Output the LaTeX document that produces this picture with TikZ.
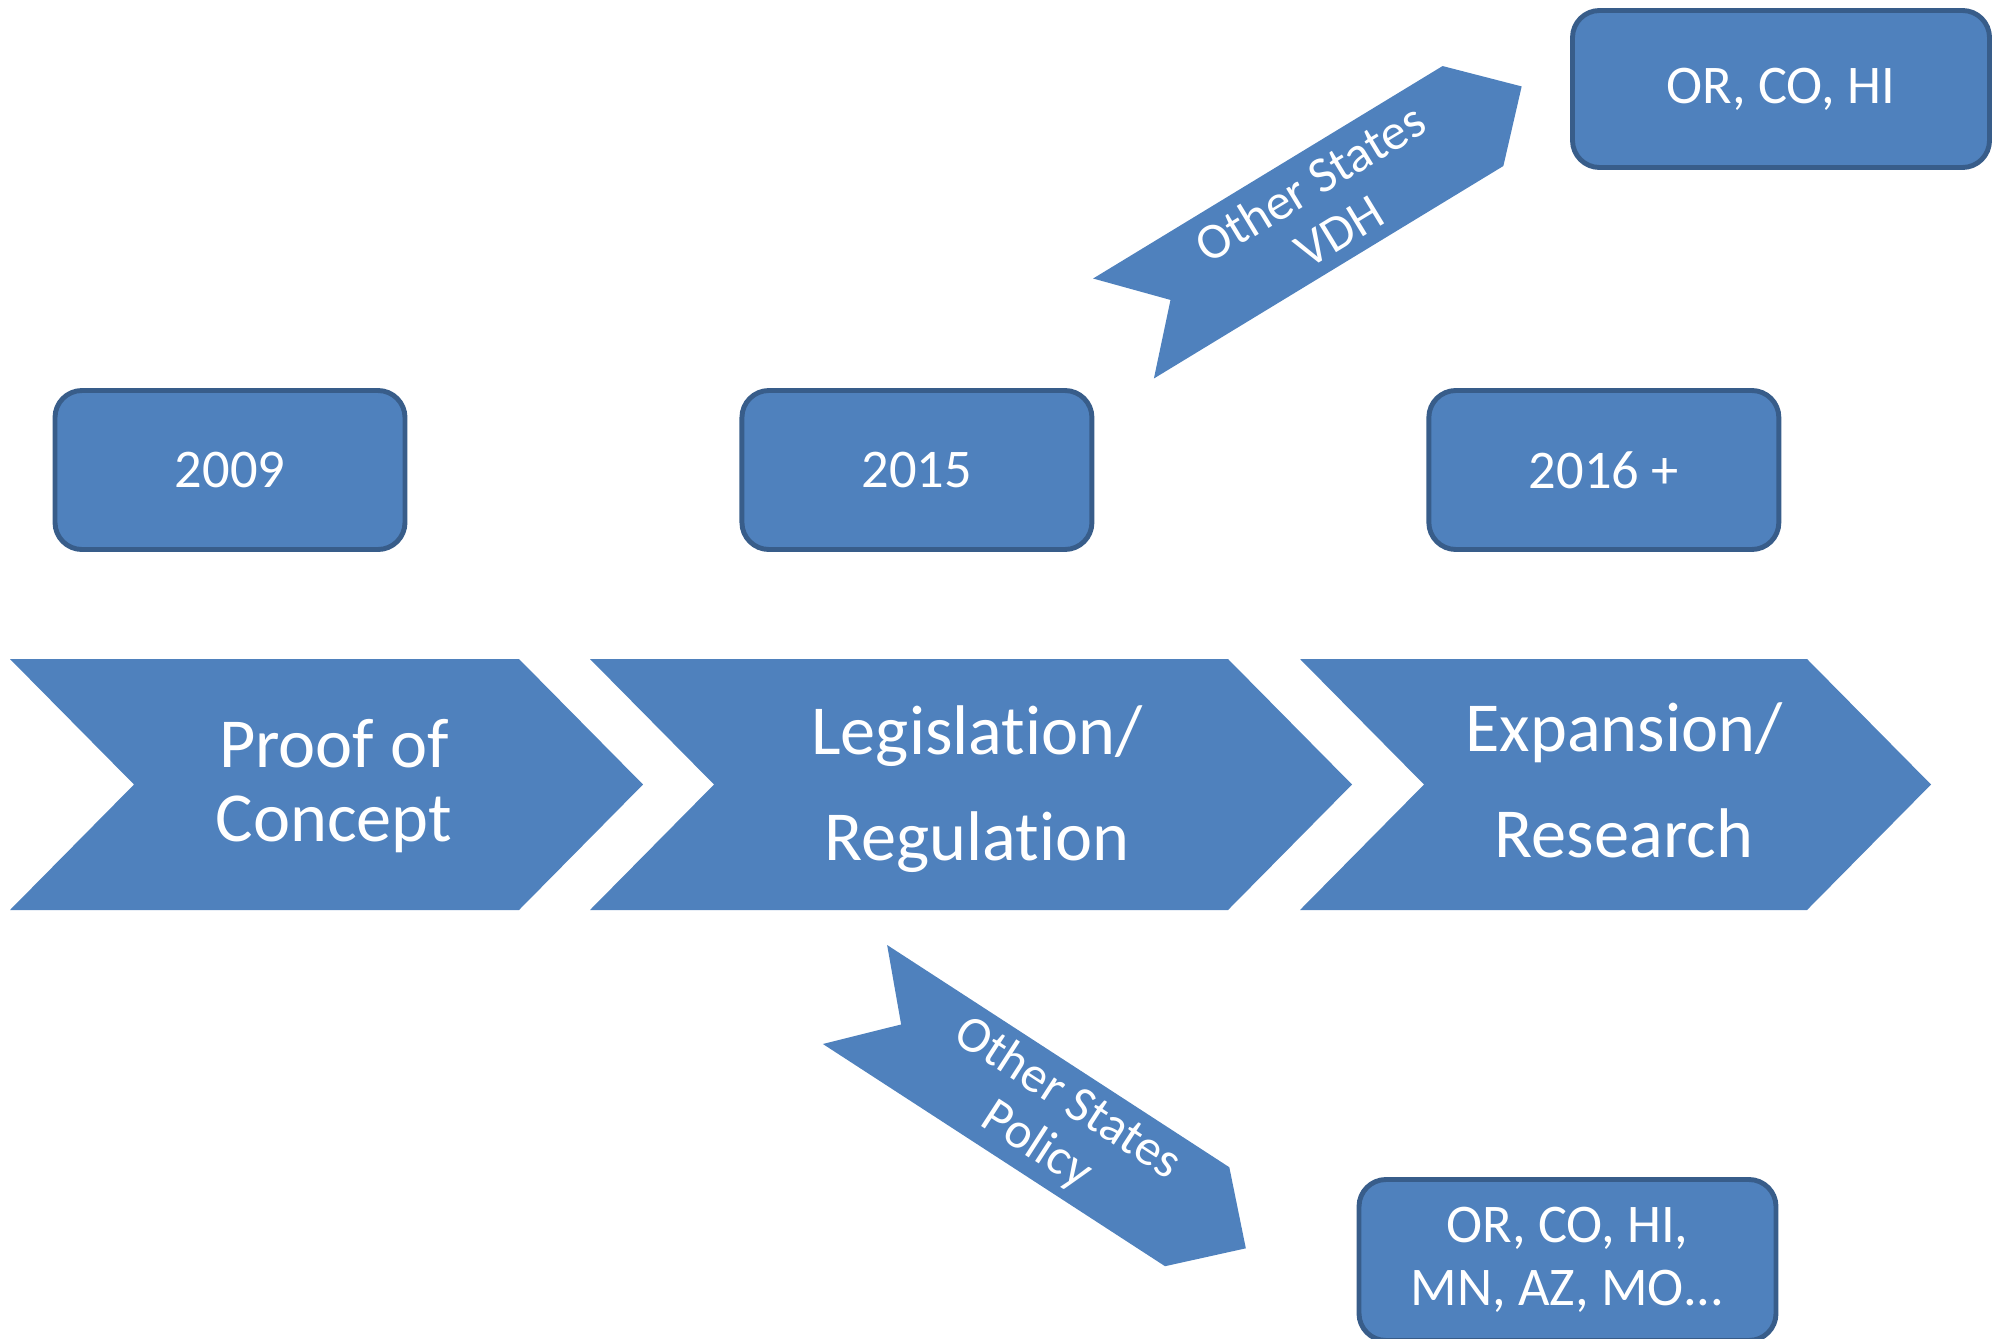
\documentclass[tikz,border=0pt]{standalone}
\usepackage{fontspec}
\setmainfont{Carlito}[Ligatures=NoCommon]
\usetikzlibrary{positioning}
\definecolor{boxblue}{HTML}{4F81BD}
\definecolor{boxedge}{HTML}{385D8A}

\begin{document}
\begin{tikzpicture}[
    yearbox/.style={draw=boxedge, fill=boxblue, line width=1.4pt, rounded corners=0.27cm, text=white, inner sep=0pt, minimum width=3.5cm, minimum height=1.59cm, align=center, font=\fontsize{15.5}{18}\selectfont},
    statebox/.style={yearbox, minimum width=4.17cm},
    stagetext/.style={text=white, align=center, inner sep=0pt, font=\fontsize{20}{30.2}\selectfont},
    flagtext/.style={text=white, align=center, inner sep=0pt, font=\fontsize{14.5}{16}\selectfont}]
    % Frame
    \useasboundingbox (0,0) rectangle (19.92,13.38);
    \clip (0,0) rectangle (19.92,13.38);

    % Stage chevrons
    \fill[boxblue] (0.10,6.79) -- (5.19,6.79) -- (6.43,5.535) -- (5.19,4.28) -- (0.10,4.28) -- (1.34,5.535) -- cycle;
    \fill[boxblue] (5.90,6.79) -- (12.28,6.79) -- (13.52,5.535) -- (12.28,4.28) -- (5.90,4.28) -- (7.14,5.535) -- cycle;
    \fill[boxblue] (13.00,6.79) -- (18.07,6.79) -- (19.31,5.535) -- (18.07,4.28) -- (13.00,4.28) -- (14.24,5.535) -- cycle;

    % Stage labels
    \node (proof) [stagetext, font=\fontsize{20}{21.3}\selectfont] at (3.34,5.52) {Proof of\\Concept};
    \node (legis) [stagetext] at (9.77,5.49) {Legislation/\\Regulation};
    \node (expan) [stagetext] at (16.24,5.575) {Expansion/\\Research};

    % Year boxes
    \node (y2009) [yearbox] at (2.30,8.68) {2009};
    \node (y2015) [yearbox, right=3.32cm of y2009] {2015};
    \node (y2016) [yearbox, right=3.32cm of y2015] {2016 +};

    % State boxes
    \node (vdhstates) [statebox, minimum height=1.57cm] at (17.81,12.49) {OR, CO, HI};
    \node (policystates) [statebox, minimum height=1.61cm] at (15.675,0.78) {OR, CO, HI,\\MN, AZ, MO...};

    % Upper flag
    \begin{scope}[shift={(11.235,10.095)}, rotate=31.3]
        \fill[boxblue] (0,0.585) -- (4.09,0.585) -- (4.66,0) -- (4.09,-0.585) -- (0,-0.585) -- (0.55,0) -- cycle;
        \node (vdh) [flagtext, rotate=31.3] at (2.35,0) {Other States\\VDH};
    \end{scope}

    % Lower flag
    \begin{scope}[shift={(8.55,3.435)}, rotate=-33]
        \fill[boxblue] (0,0.59) -- (4.08,0.59) -- (4.66,0) -- (4.08,-0.59) -- (0,-0.59) -- (0.55,0) -- cycle;
        \node (policy) [flagtext, rotate=-33] at (2.35,0) {Other States\\Policy};
    \end{scope}
\end{tikzpicture}
\end{document}
